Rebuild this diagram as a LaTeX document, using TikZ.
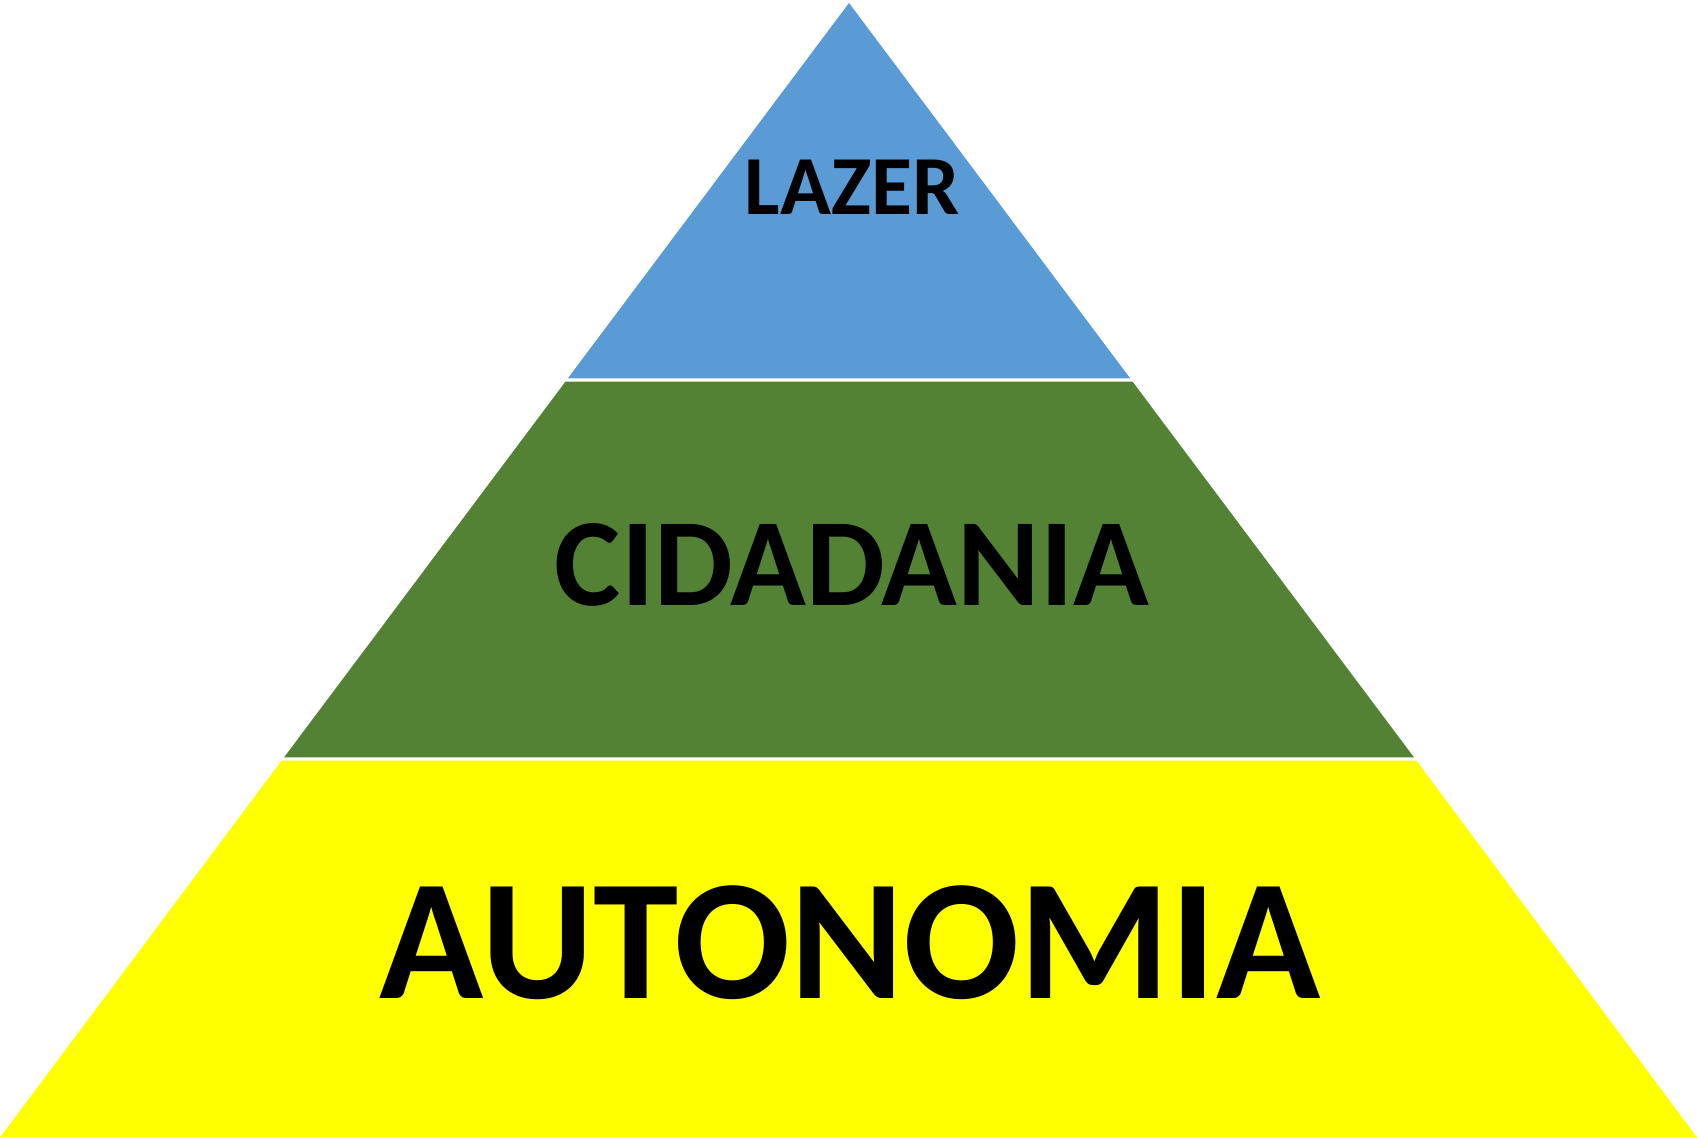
\documentclass[tikz,border=0pt]{standalone}
\usepackage{fontspec}
\setmainfont{Carlito}
\definecolor{tierblue}{HTML}{5B9BD5}
\definecolor{tiergreen}{HTML}{548235}
\definecolor{tieryellow}{HTML}{FFFF00}
\tikzset{
  tierlabel/.style={inner sep=0pt, anchor=base, text=black, font=\bfseries},
}
\begin{document}
\begin{tikzpicture}[x=1pt,y=-1pt]
\useasboundingbox (0,0) rectangle (1697,1139);
\fill[white] (0,0) rectangle (1697,1139);
% top tier
\coordinate (apex) at (849,3);
\coordinate (t1l) at (567.9,378.3);
\coordinate (t1r) at (1130.1,378.3);
\fill[tierblue] (apex) -- (t1r) -- (t1l) -- cycle;
% middle tier
\coordinate (t2tl) at (565.4,381.7);
\coordinate (t2tr) at (1132.6,381.7);
\coordinate (t2bl) at (284.1,757.3);
\coordinate (t2br) at (1413.9,757.3);
\fill[tiergreen] (t2tl) -- (t2tr) -- (t2br) -- (t2bl) -- cycle;
% bottom tier
\coordinate (t3tl) at (281.5,760.7);
\coordinate (t3tr) at (1416.5,760.7);
\coordinate (t3bl) at (0,1137.5);
\coordinate (t3br) at (1697,1137.5);
\fill[tieryellow] (t3tl) -- (t3tr) -- (t3br) -- (t3bl) -- cycle;
% labels
\node[tierlabel, font=\bfseries\fontsize{84}{84}\selectfont] (lazer) at (852,215) {LAZER};
\node[tierlabel, font=\bfseries\fontsize{125}{125}\selectfont] (cidadania) at (852,605) {CIDADANIA};
\node[tierlabel, font=\bfseries\fontsize{172}{172}\selectfont] (autonomia) at (850,998) {AUTONOMIA};
\end{tikzpicture}
\end{document}
